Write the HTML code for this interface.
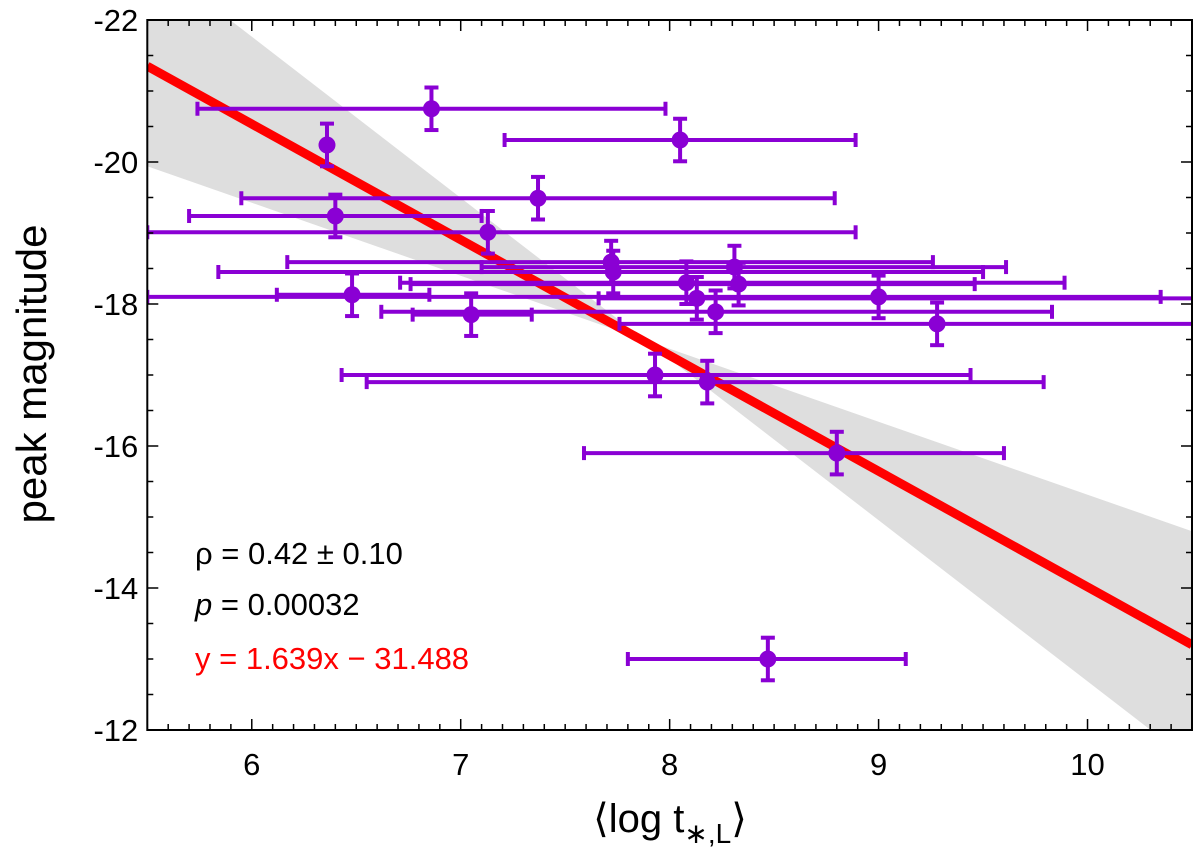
<!DOCTYPE html>
<html><head><meta charset="utf-8"><style>
body{margin:0;background:#fff}
svg{display:block;font-family:"Liberation Sans","DejaVu Sans",sans-serif}
</style></head><body>
<svg id="chart" width="1200" height="852" viewBox="0 0 1200 852" xmlns="http://www.w3.org/2000/svg">
<g id="band"></g>
<g id="fit"></g>
<g id="pts"></g>
<g id="axes"></g>
<text transform="translate(46,374) rotate(-90)" text-anchor="middle" font-size="42">peak magnitude</text>
<text x="670" y="832" text-anchor="middle" font-size="40">⟨log t<tspan font-size="28" dy="11">∗,L</tspan><tspan dy="-11">⟩</tspan></text>
<text x="195" y="564" font-size="31">ρ = 0.42 ± 0.10</text>
<text x="195" y="615" font-size="31"><tspan font-style="italic">p</tspan> = 0.00032</text>
<text x="195" y="669" font-size="31" fill="#ff0000">y = 1.639x − 31.488</text>
</svg>
<script>
const xs=[6.86,6.36,8.05,7.37,6.40,7.13,7.72,7.73,8.31,8.08,8.33,8.13,6.48,9.00,8.22,7.05,9.28,7.93,8.18,8.80,8.47];
const mags=[-20.75,-20.24,-20.31,-19.49,-19.24,-19.01,-18.59,-18.45,-18.52,-18.30,-18.28,-18.08,-18.13,-18.10,-17.89,-17.85,-17.72,-17.00,-16.90,-15.90,-13.00];
const xLo=[5.74,6.36,7.21,5.95,5.70,5.50,6.17,5.84,7.10,6.71,6.76,7.66,6.12,5.50,6.62,6.77,7.76,6.43,6.55,7.59,7.80];
const xHi=[7.98,6.36,8.89,8.79,7.10,8.89,9.26,9.50,9.61,9.89,9.46,10.60,6.85,10.35,9.83,7.34,10.60,9.44,9.79,9.60,9.13];
const yErr=0.3;
const xTicks=[6,7,8,9,10];
const yTicks=[-22,-20,-18,-16,-14,-12];
const fitA=[5.5,-21.35],fitB=[10.5,-13.2];
const bandUpper=[[5.5,-22.9],[10.5,-11.55]];
const bandLower=[[5.5,-19.94],[10.5,-14.8]];
const L=147.3,R=1192,T=20,B=730,X0=5.5,X1=10.5;
const sx=v=>L+(v-X0)/(X1-X0)*(R-L);
const sy=v=>T+(v+22)/10*(B-T);
const NS='http://www.w3.org/2000/svg';
function mk(p,t,a){const e=document.createElementNS(NS,t);for(const k in a)e.setAttribute(k,a[k]);p.appendChild(e);return e;}
const svg=document.getElementById('chart');
const defs=mk(svg,'defs',{});const cp=mk(defs,'clipPath',{id:'clip'});mk(cp,'rect',{x:L,y:T,width:R-L,height:B-T});
const band=document.getElementById('band');band.setAttribute('clip-path','url(#clip)');
const poly=mk(band,'polygon',{points:[bandUpper[0],bandUpper[1],bandLower[1],bandLower[0]].map(p=>sx(p[0])+','+sy(p[1])).join(' '),fill:'#dedede'});


const fit=document.getElementById('fit');fit.setAttribute('clip-path','url(#clip)');
const fl=mk(fit,'line',{x1:sx(fitA[0]),y1:sy(fitA[1]),x2:sx(fitB[0]),y2:sy(fitB[1]),stroke:'#ff0000','stroke-width':9});


const pts=document.getElementById('pts');pts.setAttribute('clip-path','url(#clip)');
const C='#8a00d4';
xs.forEach((x,i)=>{
 const g=mk(pts,'g',{stroke:C,'stroke-width':4,fill:C});
 
 
 const cx=sx(x),cy=sy(mags[i]);
 if(xHi[i]>xLo[i]){
  const a=sx(xLo[i]),b=sx(xHi[i]);
  mk(g,'line',{x1:a,y1:cy,x2:b,y2:cy});
  mk(g,'line',{x1:a,y1:cy-7,x2:a,y2:cy+7});
  mk(g,'line',{x1:b,y1:cy-7,x2:b,y2:cy+7});
 }
 const t=sy(mags[i]-yErr),bb=sy(mags[i]+yErr);
 mk(g,'line',{x1:cx,y1:t,x2:cx,y2:bb});
 mk(g,'line',{x1:cx-7,y1:t,x2:cx+7,y2:t});
 mk(g,'line',{x1:cx-7,y1:bb,x2:cx+7,y2:bb});
 mk(g,'circle',{cx:cx,cy:cy,r:8.5,stroke:'none'});
});
const ax=document.getElementById('axes');
mk(ax,'rect',{x:L,y:T,width:R-L,height:B-T,fill:'none',stroke:'#000','stroke-width':2});
for(let k=55;k<=105;k++){const v=k/10,x=sx(v),maj=k%10==0,len=maj?11:6;
 mk(ax,'line',{x1:x,y1:B,x2:x,y2:B-len,stroke:'#000','stroke-width':1.5});
 mk(ax,'line',{x1:x,y1:T,x2:x,y2:T+len,stroke:'#000','stroke-width':1.5});}
for(let k=-44;k<=-24;k++){const v=k/2,y=sy(v),maj=k%4==0,len=maj?11:6;
 mk(ax,'line',{x1:L,y1:y,x2:L+len,y2:y,stroke:'#000','stroke-width':1.5});
 mk(ax,'line',{x1:R,y1:y,x2:R-len,y2:y,stroke:'#000','stroke-width':1.5});}
xTicks.forEach(v=>{const t=mk(ax,'text',{x:sx(v),y:B+45,'text-anchor':'middle','font-size':31});t.textContent=v;
 
 });
yTicks.forEach(v=>{const t=mk(ax,'text',{x:L-9,y:sy(v)+11,'text-anchor':'end','font-size':31});t.textContent=v;
 
 });
</script>
</body></html>
